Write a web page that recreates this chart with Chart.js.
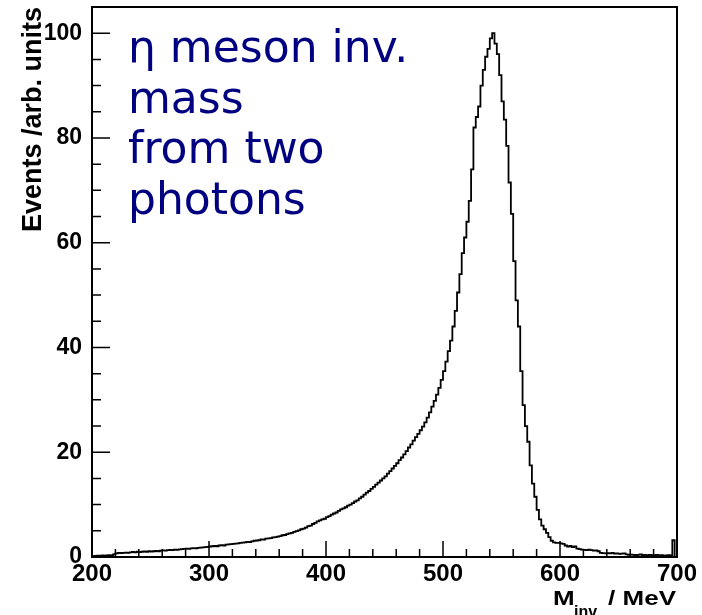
<!DOCTYPE html>
<html>
<head>
<meta charset="utf-8">
<script src="https://cdn.jsdelivr.net/npm/chart.js@4.4.0/dist/chart.umd.min.js"></script>
<style>
  html, body { margin: 0; padding: 0; background: #fff; }
  canvas { display: block; }
</style>
</head>
<body>
<canvas id="etaChart" width="702" height="615"></canvas>
<script>
// eta -> gamma gamma invariant mass, 2 MeV bins from 200 to 700 MeV
var binStart = 200;
var binWidth = 2;
var counts = [
  0.2, 0.15, 0.2, 0.25, 0.2, 0.3, 0.25, 0.3, 0.35, 0.3,
  0.5, 0.7, 0.8, 0.75, 0.8, 0.85, 0.8, 0.9, 0.95, 0.9,
  1.0, 0.95, 1.0, 1.05, 1.0, 1.1, 1.05, 1.1, 1.15, 1.1,
  1.2, 1.25, 1.2, 1.3, 1.35, 1.3, 1.4, 1.35, 1.45, 1.5,
  1.55, 1.6, 1.55, 1.65, 1.7, 1.65, 1.75, 1.8, 1.85, 1.9,
  1.95, 2.0, 2.05, 2.1, 2.05, 2.2, 2.25, 2.2, 2.35, 2.4,
  2.45, 2.5, 2.55, 2.6, 2.7, 2.75, 2.8, 2.9, 2.85, 3.0,
  3.1, 3.15, 3.2, 3.35, 3.3, 3.5, 3.55, 3.6, 3.75, 3.8,
  3.9, 4.0, 4.15, 4.2, 4.35, 4.5, 4.6, 4.8, 4.95, 5.1,
  5.3, 5.4, 5.6, 5.9, 6.0, 6.3, 6.5, 6.8, 7.0, 7.2,
  7.3, 7.6, 7.8, 8.1, 8.3, 8.5, 8.8, 9.1, 9.3, 9.5,
  9.8, 10.0, 10.3, 10.6, 10.8, 11.2, 11.5, 11.9, 12.3, 12.6,
  13.0, 13.4, 13.8, 14.2, 14.6, 15.0, 15.4, 15.9, 16.4, 16.9,
  17.4, 17.9, 18.5, 19.0, 19.6, 20.2, 20.9, 21.5, 22.2, 22.9,
  23.5, 24.2, 24.9, 25.7, 26.6, 27.6, 28.7, 29.8, 31.0, 32.3,
  33.8, 35.5, 37.3, 39.3, 41.3, 44.0, 47.0, 50.5, 54.0, 58.0,
  61.0, 64.0, 68.0, 74.0, 82.0, 84.0, 86.0, 90.0, 93.0, 95.5,
  97.0, 99.0, 100.0, 98.0, 96.0, 92.0, 87.0, 83.5, 78.5, 71.5,
  65.5, 56.5, 49.0, 44.0, 35.5, 29.0, 25.0, 22.0, 17.5, 14.0,
  11.5, 9.0, 7.2, 6.0, 5.3, 4.6, 3.8, 3.1, 2.8, 2.7,
  2.7, 2.6, 2.5, 2.2, 2.0, 2.1, 1.9, 2.0, 1.6, 1.5,
  1.4, 1.35, 1.3, 1.4, 1.3, 1.2, 1.25, 1.1, 0.8, 0.75,
  0.7, 0.75, 0.7, 0.8, 0.65, 0.7, 0.6, 0.65, 0.7, 0.5,
  0.4, 0.45, 0.4, 0.35, 0.4, 0.5, 0.35, 0.4, 0.3, 0.4,
  0.35, 0.3, 0.4, 0.3, 0.35, 0.25, 0.3, 0.35, 0.3, 3.2
];

var xRange = [200, 700];
var yRange = [0, 105];
var xLabels = [200, 300, 400, 500, 600, 700];
var yLabels = [0, 20, 40, 60, 80, 100];
var yTitle = 'Events /arb. units';
var noteLines = ['η meson inv.', 'mass', 'from two', 'photons'];

function histPoints() {
  var pts = counts.map(function(c, i) {
    return { x: binStart + i * binWidth, y: c };
  });
  pts.unshift({ x: binStart, y: 0 });
  pts.push({ x: binStart + counts.length * binWidth, y: 0 });
  return pts;
}

// ROOT style frame: box round the pad, ticks pointing inward
var rootFrame = {
  id: 'rootFrame',
  afterDraw: function(chart) {
    var ctx = chart.ctx, a = chart.chartArea;
    var xs = chart.scales.x, ys = chart.scales.y;
    ctx.save();
    ctx.strokeStyle = '#000';
    ctx.lineWidth = 2;
    ctx.strokeRect(a.left, a.top, a.right - a.left, a.bottom - a.top);

    ctx.lineWidth = 1.5;
    ctx.beginPath();
    xs.ticks.forEach(function(t) {
      var px = xs.getPixelForValue(t.value);
      var len = xLabels.indexOf(t.value) >= 0 ? 16 : 8;
      ctx.moveTo(px, a.bottom);
      ctx.lineTo(px, a.bottom - len);
    });
    ys.ticks.forEach(function(t) {
      var py = ys.getPixelForValue(t.value);
      var len = yLabels.indexOf(t.value) >= 0 ? 18 : 9;
      ctx.moveTo(a.left, py);
      ctx.lineTo(a.left + len, py);
    });
    ctx.stroke();

    // x axis title with subscript
    ctx.fillStyle = '#000';
    ctx.textBaseline = 'alphabetic';
    ctx.font = 'bold 26px "Liberation Sans"';
    ctx.save();
    ctx.translate(553, 605);
    ctx.scale(1, 0.78);
    ctx.textAlign = 'left';
    ctx.fillText('M', 0, 0);
    ctx.restore();
    ctx.save();
    ctx.translate(676, 605);
    ctx.scale(1, 0.78);
    ctx.textAlign = 'right';
    ctx.fillText(' / MeV', 0, 0);
    ctx.restore();
    ctx.font = 'bold 16px "Liberation Sans"';
    ctx.textAlign = 'left';
    ctx.fillText('inv', 574, 617);

    // annotation text
    ctx.fillStyle = '#000080';
    ctx.font = '44px "DejaVu Sans"';
    noteLines.forEach(function(line, i) {
      ctx.fillText(line, 128, 62 + i * 50.5);
    });
    ctx.restore();
  }
};

new Chart(document.getElementById('etaChart'), {
  type: 'line',
  data: {
    datasets: [{
      label: 'M inv',
      data: histPoints(),
      stepped: 'after',
      borderColor: '#000',
      borderWidth: 1.8,
      pointRadius: 0,
      fill: false
    }]
  },
  options: {
    responsive: false,
    animation: false,
    devicePixelRatio: 1,
    layout: { padding: { left: 0, right: 25, top: 7, bottom: 0 } },
    plugins: { legend: { display: false }, tooltip: { enabled: false } },
    scales: {
      x: {
        type: 'linear',
        min: xRange[0],
        max: xRange[1],
        grid: { display: false },
        border: { display: false },
        ticks: {
          stepSize: 20,
          autoSkip: false,
          maxRotation: 0,
          padding: -5,
          color: '#000',
          font: { family: 'Liberation Sans', size: 24, weight: 'bold' },
          callback: function(v) { return xLabels.indexOf(v) >= 0 ? String(v) : ''; }
        },
        afterFit: function(s) {
          s.height = 58;
          s.paddingLeft = 0;
          s.paddingRight = 0;
        }
      },
      y: {
        min: yRange[0],
        max: yRange[1],
        grid: { display: false },
        border: { display: false },
        ticks: {
          stepSize: 5,
          autoSkip: false,
          padding: 2,
          color: '#000',
          font: { family: 'Liberation Sans', size: 23, weight: 'bold' },
          callback: function(v) { return yLabels.indexOf(v) >= 0 ? String(v) : ''; }
        },
        title: {
          display: true,
          text: yTitle,
          align: 'end',
          color: '#000',
          padding: { top: 17, bottom: 0 },
          font: { family: 'Liberation Sans', size: 27, weight: 'bold' }
        },
        afterFit: function(s) {
          s.width = 92;
          s.paddingTop = 0;
          s.paddingBottom = 0;
        }
      }
    }
  },
  plugins: [rootFrame]
});
</script>
</body>
</html>
